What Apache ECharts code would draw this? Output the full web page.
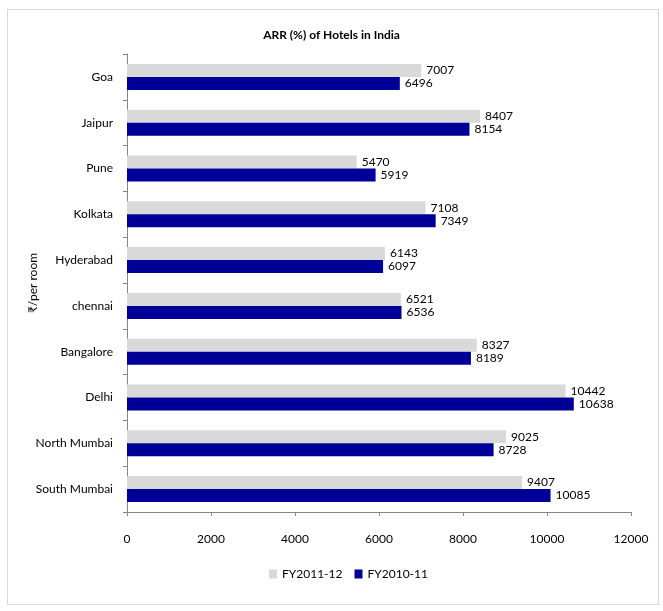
<!DOCTYPE html>
<html>
<head>
<meta charset="utf-8">
<script src="https://cdn.jsdelivr.net/npm/echarts@6/dist/echarts.min.js"></script>
<style>
  html, body { margin: 0; padding: 0; background: #fff; }
  #chart { width: 663px; height: 611px; }
  .frame { position: absolute; left: 7px; top: 9px; width: 650px; height: 594px; border: 1px solid #d9d9d9; pointer-events: none; }
</style>
</head>
<body>
<div id="chart"></div>
<div class="frame"></div>
<script>
// cities, bottom to top as on the axis
var cities = ['South Mumbai', 'North Mumbai', 'Delhi', 'Bangalore', 'chennai', 'Hyderabad', 'Kolkata', 'Pune', 'Jaipur', 'Goa']
var fy1112 = [9407, 9025, 10442, 8327, 6521, 6143, 7108, 5470, 8407, 7007]
var fy1011 = [10085, 8728, 10638, 8189, 6536, 6097, 7349, 5919, 8154, 6496]

var font = 'Lato, "Open Sans", sans-serif'

var chart = echarts.init(document.getElementById('chart'))
chart.setOption({
  animation: false,
  textStyle: { fontFamily: font },
  title: {
    text: 'ARR (%) of Hotels in India',
    left: 'center',
    top: 24,
    textStyle: { fontSize: 12, fontWeight: 'bold', color: '#000', fontFamily: font }
  },
  legend: {
    data: ['FY2011-12', 'FY2010-11'],
    bottom: 26,
    left: 264,
    icon: 'rect',
    itemWidth: 8,
    itemHeight: 9,
    itemGap: 12,
    itemStyle: { borderWidth: 0 },
    textStyle: { fontSize: 12, color: '#000', fontFamily: font }
  },
  grid: { left: 127, right: 32, top: 54, bottom: 99 },
  xAxis: {
    type: 'value',
    min: 0,
    max: 12000,
    interval: 2000,
    splitLine: { show: false },
    axisLine: { show: true, lineStyle: { color: '#868686', width: 1 } },
    axisTick: { show: true, length: 4, lineStyle: { color: '#868686' } },
    axisLabel: { color: '#000', fontSize: 12, margin: 21, formatter: function (v) { return String(v) } }
  },
  yAxis: {
    type: 'category',
    data: cities,
    name: '₹/per room',
    nameLocation: 'middle',
    nameRotate: 90,
    nameGap: 88,
    nameMoveOverlap: false,
    nameTextStyle: { fontSize: 12, color: '#000' },
    axisLine: { show: true, lineStyle: { color: '#868686', width: 1 } },
    axisTick: { show: true, length: 4, lineStyle: { color: '#868686' } },
    axisLabel: { color: '#000', fontSize: 12, margin: 14 }
  },
  series: [
    {
      name: 'FY2011-12',
      type: 'bar',
      data: fy1112,
      barWidth: 13,
      barGap: '0%',
      itemStyle: { color: '#d9d9d9' },
      label: { show: true, position: 'right', distance: 5, color: '#000', fontSize: 12 }
    },
    {
      name: 'FY2010-11',
      type: 'bar',
      data: fy1011,
      barWidth: 13,
      barGap: '0%',
      itemStyle: { color: '#000099' },
      label: { show: true, position: 'right', distance: 5, color: '#000', fontSize: 12 }
    }
  ]
})
</script>
</body>
</html>
